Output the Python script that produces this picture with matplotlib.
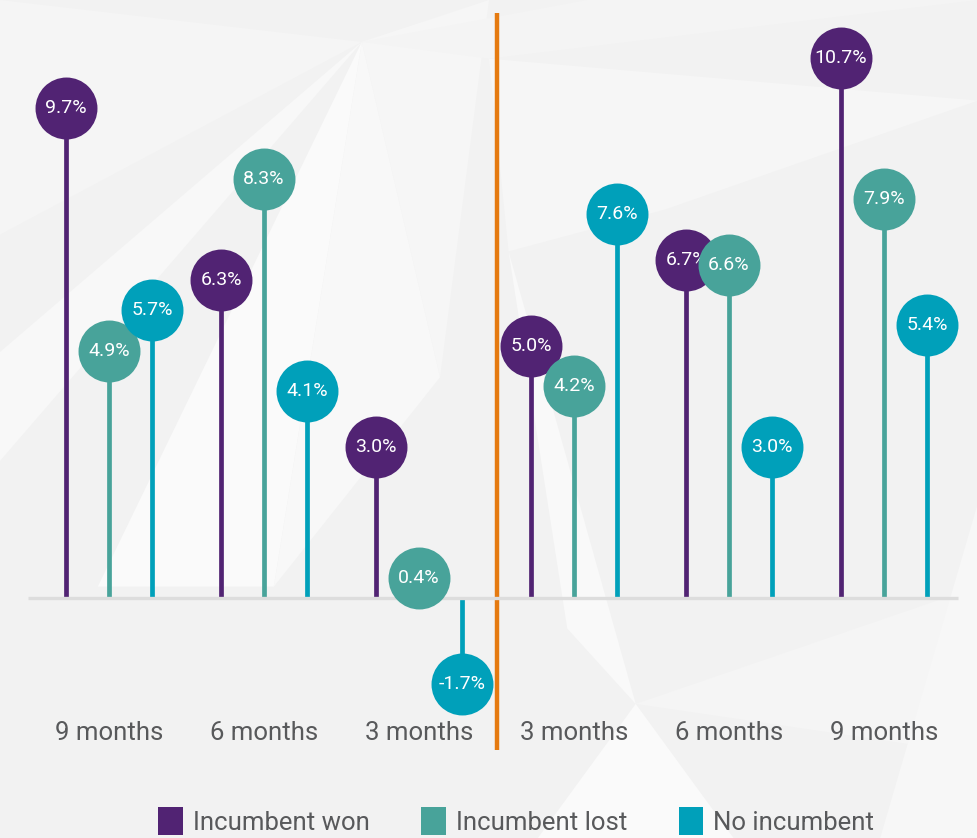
import matplotlib.pyplot as plt
from matplotlib.patches import Patch, Polygon

# growth before / after the election, by incumbent outcome
CATEGORIES = ["9 months", "6 months", "3 months", "3 months", "6 months", "9 months"]
INCUMBENT_WON = [9.7, 6.3, 3.0, 5.0, 6.7, 10.7]
INCUMBENT_LOST = [4.9, 8.3, 0.4, 4.2, 6.6, 7.9]
NO_INCUMBENT = [5.7, 4.1, -1.7, 7.6, 3.0, 5.4]
SERIES_NAMES = ["Incumbent won", "Incumbent lost", "No incumbent"]

COLORS = ["#512373", "#48A39A", "#00A0BA"]
ORANGE = "#E57A10"
LABEL_GREY = "#58595B"
OFFSET = 0.277  # spacing of the three stems inside a group

plt.rcParams['font.family'] = ['Roboto', 'DejaVu Sans']

fig = plt.figure(figsize=(9.78, 8.38), dpi=100, facecolor="#f2f2f2")

# faint low-poly backdrop, figure fractions
facets = [
    ([(0.00, 1.00), (0.37, 0.95), (0.00, 0.72)], "#f5f5f5"),
    ([(0.37, 0.95), (0.00, 0.58), (0.00, 0.45)], "#f8f8f8"),
    ([(0.37, 0.95), (0.10, 0.30), (0.28, 0.30)], "#fafafa"),
    ([(0.37, 0.95), (0.28, 0.30), (0.45, 0.55)], "#f8f8f8"),
    ([(0.37, 0.95), (0.50, 1.00), (0.45, 0.55)], "#f6f6f6"),
    ([(0.37, 0.95), (0.60, 1.00), (1.00, 1.00), (0.50, 0.93)], "#f4f4f4"),
    ([(0.50, 0.93), (1.00, 0.88), (0.68, 0.75), (0.52, 0.70)], "#f6f6f6"),
    ([(0.52, 0.70), (0.58, 0.25), (0.65, 0.16)], "#f9f9f9"),
    ([(0.65, 0.16), (0.55, 0.00), (0.75, 0.00)], "#fafafa"),
    ([(0.65, 0.16), (1.00, 0.30), (1.00, 0.10)], "#f5f5f5"),
    ([(0.90, 0.00), (1.00, 0.40), (1.00, 0.00)], "#f7f7f7"),
]
for verts, c in facets:
    fig.patches.append(Polygon(verts, closed=True, transform=fig.transFigure,
                               facecolor=c, edgecolor="none", zorder=-1))

ax = fig.add_axes([0, 0, 1, 1])
ax.set_xlim(-0.703, 5.606)
ax.set_ylim(-4.75, 11.84)
ax.axis("off")
ax.patch.set_alpha(0)

series = [INCUMBENT_WON, INCUMBENT_LOST, NO_INCUMBENT]
for k, (vals, color) in enumerate(zip(series, COLORS)):
    for g, v in enumerate(vals):
        x = g + (k - 1) * OFFSET
        ax.plot([x, x], [0, v], color=color, lw=3.4, solid_capstyle="butt", zorder=2)
        ax.plot(x, v, "o", ms=44.6, color=color, mec="none", zorder=4 + k)
        ax.text(x, v, f"{v:.1f}%", color="white", fontsize=14,
                ha="center", va="center", zorder=4 + k)

# divider between before / after the election
ax.vlines(2.5, -3.01, 11.58, color=ORANGE, lw=3.2, zorder=1)

# zero line
ax.hlines(0, -0.523, 5.477, color="#dddddd", lw=2.4, zorder=3)

for g, name in enumerate(CATEGORIES):
    ax.text(g, -2.67, name, color=LABEL_GREY, fontsize=18.5, ha="center", va="center")

handles = [Patch(facecolor=c, edgecolor="none") for c in COLORS]
fig.legend(handles, SERIES_NAMES, loc="center", bbox_to_anchor=(0.528, 0.02),
           ncol=3, frameon=False, fontsize=18.5, labelcolor=LABEL_GREY,
           handlelength=0.95, handleheight=1.3, handletextpad=0.4,
           columnspacing=2.0)

fig.savefig("out.png", dpi=100, facecolor=fig.get_facecolor())
